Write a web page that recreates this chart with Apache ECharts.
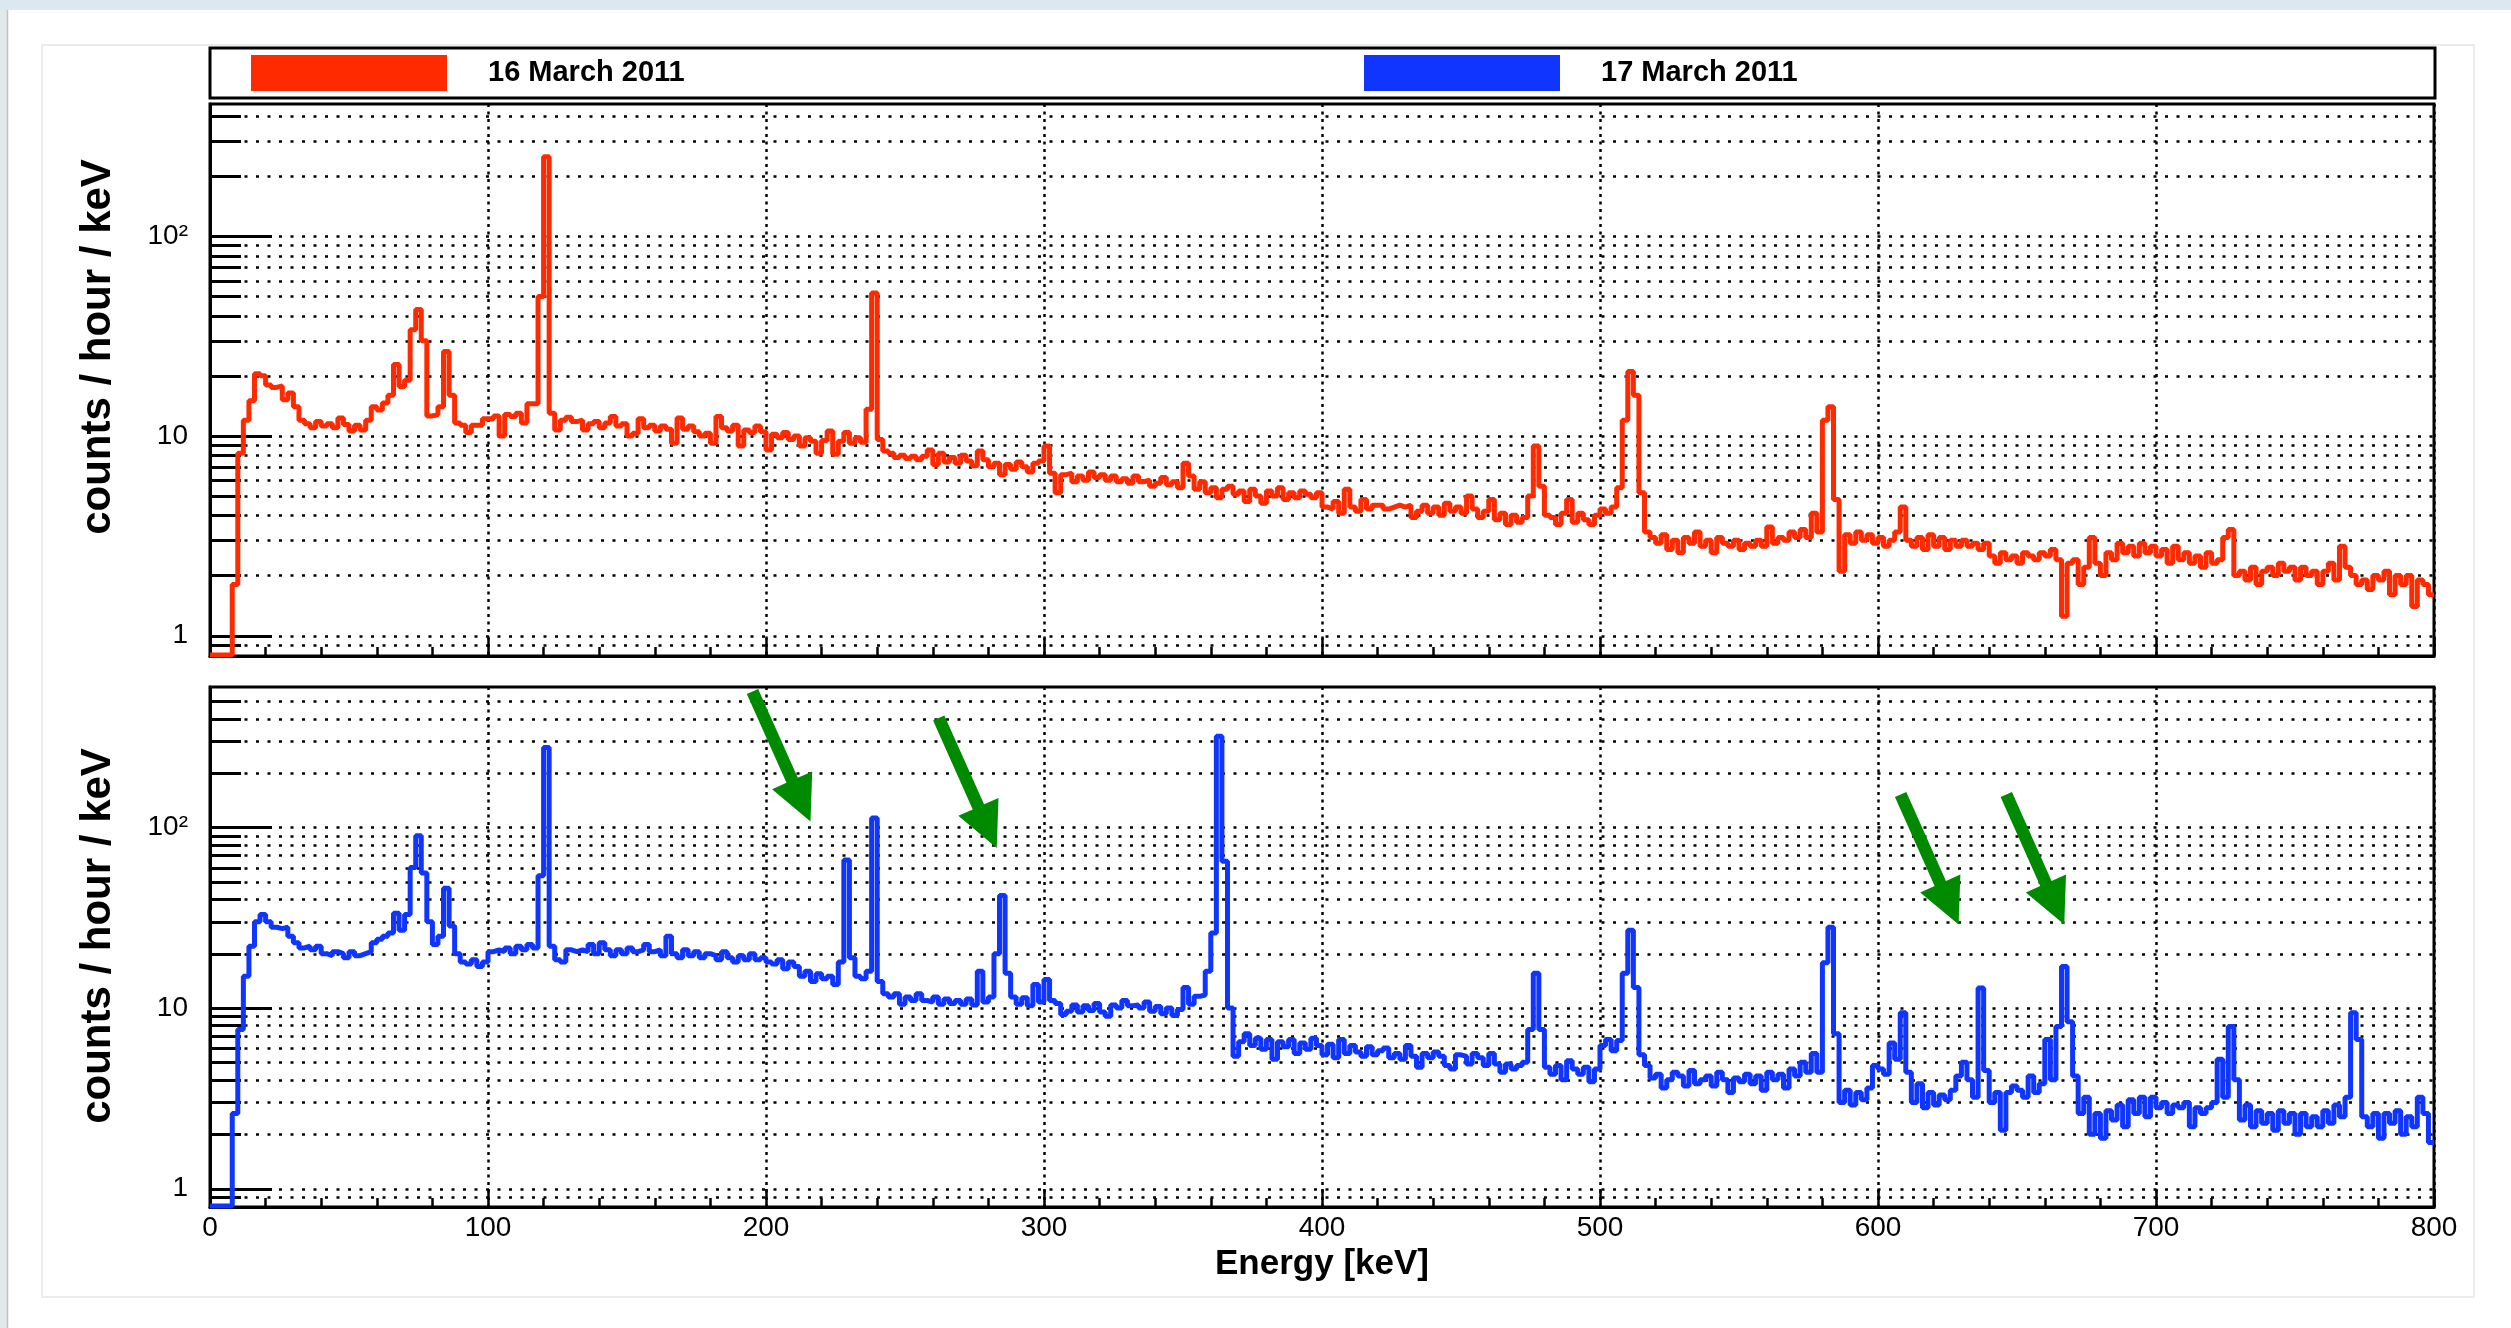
<!DOCTYPE html>
<html>
<head>
<meta charset="utf-8">
<title>Gamma spectrum 16/17 March 2011</title>
<script src="https://cdn.jsdelivr.net/npm/echarts@6/dist/echarts.min.js"></script>
<style>
html, body { margin: 0; padding: 0; background: #fff; }
#chart { width: 2511px; height: 1328px; }
</style>
</head>
<body>
<div id="chart"></div>
<script>
// histogram bins, 2 keV wide, starting at 0 keV; counts / hour / keV
var binWidth = 2;
var energyMax = 800;

var march16 = [
    0.8, 0.8, 0.8, 0.8, 1.8, 8.2, 12, 15, 20.5, 20,
    18, 17.5, 17.8, 15.2, 16.4, 14, 12, 11.5, 11, 11.8,
    11.2, 11.5, 11, 12.3, 11.4, 10.6, 11.3, 10.7, 12, 14,
    13.5, 14.6, 16, 22.8, 17.7, 19, 34, 43, 30, 12.6,
    12.8, 14, 26.5, 16, 11.6, 11.3, 10.4, 11.3, 11.3, 12.2,
    12.2, 12.6, 10, 12.8, 12.5, 13, 11.6, 14.5, 14.5, 50,
    250, 13, 10.7, 12, 12.4, 11.8, 12, 10.7, 11.5, 11.8,
    11, 11.6, 12.5, 11.2, 11.5, 10, 10.3, 12.2, 11, 11.3,
    10.6, 11.2, 10.8, 9.2, 12.3, 10.8, 11.2, 10.5, 10, 10.3,
    9.2, 12.5, 11, 10.6, 11.3, 8.9, 10.7, 10.4, 11.2, 10.5,
    8.5, 10.2, 9.8, 10.4, 9.6, 10, 8.9, 9.8, 9.4, 8.2,
    9.5, 10.6, 8.1, 9.4, 10.4, 9.2, 9.8, 9.3, 13.6, 52,
    9.6, 8.4, 8.2, 7.8, 8, 7.7, 7.9, 7.6, 7.9, 8.5,
    7.2, 8.2, 7.4, 7.8, 7.3, 8, 7.5, 7.1, 8.4, 7.6,
    7, 7.3, 6.4, 7.2, 6.8, 7.4, 7, 6.6, 7.3, 7.5,
    8.9, 6.5, 5.2, 6.4, 6.5, 5.9, 6.3, 6, 6.6, 6.2,
    6.4, 6, 6.3, 5.9, 6.1, 5.8, 6.3, 5.9, 6, 5.6,
    5.8, 6.2, 5.7, 5.9, 5.5, 7.3, 6.3, 5.4, 5.9, 5.2,
    5.5, 4.9, 5.4, 5.6, 5.1, 5.3, 4.7, 5.4, 5, 4.6,
    5.3, 5, 5.5, 4.8, 5.2, 4.9, 5.3, 5.1, 4.9, 5.2,
    4.4, 4.3, 4.7, 4.1, 5.4, 4.4, 4.2, 4.8, 4.3, 4.5,
    4.5, 4.3, 4.4, 4.5, 4.4, 4.5, 3.9, 4.2, 4.5, 4.1,
    4.4, 4, 4.6, 4.2, 4.4, 4.1, 5, 4.3, 3.9, 4.2,
    4.8, 3.8, 4.1, 3.6, 4, 3.7, 3.9, 5, 8.9, 5.6,
    4, 3.9, 3.6, 4.1, 4.8, 3.7, 4.1, 3.8, 3.6, 4,
    4.3, 4.1, 4.4, 5.5, 12, 21, 16, 5.2, 3.3, 3.1,
    2.9, 3.2, 2.7, 3, 2.6, 3.1, 2.9, 3.3, 2.8, 3,
    2.6, 3.1, 2.9, 2.8, 3, 2.7, 2.9, 2.8, 3, 2.8,
    3.5, 2.9, 3.1, 3, 3.3, 3.1, 3.4, 3.1, 4.1, 3.3,
    12, 14, 4.8, 2.1, 3.2, 2.9, 3.3, 3, 3.2, 2.9,
    3.1, 2.8, 3, 3.3, 4.4, 3, 2.8, 3.1, 2.7, 3.2,
    2.8, 3.1, 2.7, 3, 2.8, 3, 2.8, 2.9, 2.7, 2.9,
    2.5, 2.3, 2.6, 2.4, 2.5, 2.3, 2.6, 2.5, 2.4, 2.6,
    2.5, 2.7, 2.4, 1.25, 2.3, 2.4, 1.8, 2.2, 3.1, 2.3,
    2, 2.6, 2.4, 2.9, 2.6, 2.8, 2.5, 2.9, 2.6, 2.8,
    2.5, 2.7, 2.3, 2.8, 2.4, 2.6, 2.3, 2.5, 2.2, 2.6,
    2.3, 2.4, 3.1, 3.4, 2, 2.1, 1.9, 2.2, 1.8, 2.1,
    2.2, 2, 2.3, 2.1, 2.2, 1.9, 2.2, 2, 2.1, 1.8,
    2.1, 2.3, 1.9, 2.8, 2.2, 2, 1.8, 1.9, 1.7, 2,
    1.9, 2.1, 1.6, 2, 1.8, 2, 1.4, 1.9, 1.8, 1.6
];

var march17 = [
    0.8, 0.8, 0.8, 0.8, 2.6, 7.6, 15, 22, 30, 33,
    30, 28, 27.5, 28, 25, 23, 21.5, 22, 21, 22,
    20, 19.5, 20.5, 20, 19, 20.5, 19.5, 20, 20.5, 23,
    24, 25, 26, 33.5, 27, 33, 60, 90, 56, 30,
    22.5, 25, 46, 28.5, 20, 18, 17.5, 18.5, 17, 18,
    20.5, 21, 20.5, 21.5, 20, 22, 21, 22.5, 21.5, 54,
    277, 22, 18.5, 18, 21, 20.5, 21, 20.5, 22.5, 20,
    23, 21, 19.5, 21, 20, 21.5, 20.5, 21, 22.5, 20.5,
    21, 19.5, 25, 20, 19, 21, 19.5, 20.5, 19, 20,
    19.5, 18.5, 20.5, 19, 18, 19.5, 18.5, 20, 18.5, 19,
    18, 17.5, 18.5, 16.5, 18, 17, 15, 16, 14, 15.5,
    14.5, 15, 13.5, 18, 66, 19, 15, 14.5, 16, 113,
    14, 12, 11.5, 12, 10.5, 11.5, 11, 12, 11, 10.8,
    11.5, 10.5, 11.2, 10.6, 11, 10.5, 11.2, 10.4, 16, 10.8,
    11.5, 20, 42, 15.6, 11.5, 10.5, 11.4, 10.3, 13.5, 10.8,
    14.4, 11, 10.6, 9.2, 9.6, 10.4, 9.5, 10.3, 9.7, 10.6,
    9.5, 9, 10.4, 10, 11, 10.3, 10.4, 10, 10.8, 9.6,
    10.2, 9.3, 10, 9.1, 9.8, 13, 10.5, 11.6, 11.8, 16,
    26, 320, 65, 10, 5.4, 6.5, 7.2, 6.2, 6.8, 5.9,
    6.7, 5.2, 6.5, 6.1, 6.7, 5.6, 6.4, 5.9, 6.8, 6.2,
    5.5, 6.3, 5.3, 6.7, 5.6, 6.2, 5.7, 5.4, 6.1, 5.5,
    5.8, 6, 5.3, 5.6, 5.2, 6.2, 5.4, 4.7, 5.6, 5.3,
    5.7, 5.4, 4.8, 4.6, 5.5, 5.4, 4.9, 5.6, 5.3, 4.8,
    5.6, 4.9, 4.4, 4.9, 4.6, 4.8, 5, 7.6, 15.6, 7.6,
    4.7, 4.3, 4.8, 4, 5.1, 4.6, 4.3, 4.7, 3.9, 4.6,
    6.2, 6.7, 5.8, 6.6, 15.6, 27, 13, 5.5, 4.8, 4.1,
    4.3, 3.6, 4, 4.4, 4.2, 3.7, 4.5, 3.8, 4, 4.2,
    3.7, 4.4, 4, 3.4, 4.1, 3.9, 4.3, 3.8, 4.2, 3.5,
    4.4, 4, 4.3, 3.6, 4.6, 4.2, 5, 4.4, 5.6, 4.4,
    17.8, 28, 7.2, 3, 3.5, 2.9, 3.4, 3.1, 3.6, 4.8,
    4.6, 4.3, 6.4, 5.2, 9.4, 4.4, 3, 3.8, 2.8, 3.4,
    2.9, 3.3, 3.1, 3.5, 4.2, 5, 4, 3.2, 12.9, 4.5,
    3, 3.4, 2.1, 3.4, 3.7, 3.5, 3.2, 4.2, 3.4, 3.8,
    6.7, 4, 7.9, 17, 8.4, 4.2, 2.6, 3.2, 2, 2.6,
    1.9, 2.7, 2.4, 2.9, 2.2, 3.1, 2.6, 3.2, 2.5, 3.2,
    2.8, 3, 2.6, 2.9, 2.8, 3, 2.2, 2.8, 2.6, 2.8,
    3, 5.2, 3.2, 7.9, 4, 2.4, 2.9, 2.2, 2.7, 2.3,
    2.6, 2.1, 2.7, 2.3, 2.6, 2, 2.6, 2.2, 2.5, 2.2,
    2.7, 2.3, 2.9, 2.5, 3.2, 9.4, 6.7, 2.5, 2.2, 2.6,
    1.9, 2.6, 2.3, 2.7, 2, 2.5, 2.2, 3.2, 2.6, 1.8
];

// log grid lines (ROOT style: every 1..9 x 10^n)
var gridLinesTop = [0.9, 1, 2, 3, 4, 5, 6, 7, 8, 9, 10, 20, 30, 40, 50, 60, 70, 80, 90, 100, 200, 300, 400];
var gridLinesBottom = [0.9, 1, 2, 3, 4, 5, 6, 7, 8, 9, 10, 20, 30, 40, 50, 60, 70, 80, 90, 100, 200, 300, 400, 500];
var majorDecades = [1, 10, 100];
var decadeLabels = ['1', '10', '10²'];

// green arrows in the lower panel: tip position [keV, counts/hour/keV]
var arrowTips = [[216, 108], [283, 77], [629, 29], [667, 29]];

var RED = '#ff2a00';
var BLUE = '#0f35ff';
var GREEN = '#008a00';
var FONT = '"Liberation Sans", Arial, Helvetica, sans-serif';

var chart = echarts.init(document.getElementById('chart'));

function toSteps(vals) {
    var pts = vals.map(function (v, i) { return [i * binWidth, v]; });
    pts.push([energyMax, vals[vals.length - 1]]);
    return pts;
}

function decadeLabel(v) {
    var e = Math.log10(v);
    var r = Math.round(e);
    if (Math.abs(e - r) > 1e-6) return '';
    return decadeLabels[r] || '';
}

// dotted horizontal grid + left ticks, drawn at data values through the y scale
function logGrid(idx, values) {
    return {
        type: 'custom',
        xAxisIndex: idx,
        yAxisIndex: idx,
        silent: true,
        z: 1,
        data: values.map(function (v) { return [0, v]; }),
        renderItem: function (params, api) {
            var cs = params.coordSys;
            var v = api.value(1);
            var y = Math.round(api.coord([0, v])[1]) + 0.5;
            var major = majorDecades.indexOf(v) >= 0;
            return {
                type: 'group',
                children: [{
                    type: 'line',
                    shape: { x1: cs.x, y1: y, x2: cs.x + cs.width, y2: y },
                    style: { stroke: '#000', lineWidth: 2.5, lineDash: [3, 8.5] }
                }, {
                    type: 'line',
                    shape: { x1: cs.x, y1: y, x2: cs.x + (major ? 62 : 31), y2: y },
                    style: { stroke: '#000', lineWidth: 3 }
                }]
            };
        }
    };
}

function xAxisOf(idx) {
    return {
        type: 'value',
        gridIndex: idx,
        min: 0,
        max: energyMax,
        interval: 100,
        axisLine: { onZero: false, lineStyle: { color: '#000', width: 3 } },
        axisTick: { inside: true, length: 18, lineStyle: { color: '#000', width: 2.5 } },
        minorTick: { show: true, splitNumber: 5, length: 9, lineStyle: { color: '#000', width: 2.5 } },
        axisLabel: { show: idx === 1, color: '#000', fontSize: 28, margin: 7, fontFamily: FONT },
        splitLine: { show: true, lineStyle: { color: '#000', width: 2.5, type: [3, 4.5] } },
        name: idx === 1 ? 'Energy [keV]' : '',
        nameLocation: 'middle',
        nameGap: 40,
        nameTextStyle: { color: '#000', fontSize: 35, fontWeight: 'bold', fontFamily: FONT }
    };
}

// the titles sit a little above the panel centre in the original
function yAxisOf(idx, max, lift) {
    return {
        type: 'log',
        gridIndex: idx,
        min: 0.79,
        max: max,
        axisLine: { show: true, lineStyle: { color: '#000', width: 3 } },
        axisTick: { show: false },
        splitLine: { show: false },
        axisLabel: { color: '#000', fontSize: 28, margin: 22, fontFamily: FONT, formatter: decadeLabel },
        name: 'counts / hour / keV',
        nameLocation: 'middle',
        nameRotate: 90,
        nameGap: 91,
        nameTextStyle: { color: '#000', fontSize: 42, fontWeight: 'bold', fontFamily: FONT, padding: [0, 0, 0, lift] }
    };
}

function legendOf(name, left) {
    return {
        data: [name],
        left: left,
        top: 55,
        padding: 0,
        icon: 'rect',
        itemWidth: 196,
        itemHeight: 36,
        selectedMode: false,
        textStyle: { color: '#000', fontSize: 29, fontWeight: 'bold', fontFamily: FONT, padding: [0, 0, 0, 36] }
    };
}

var frameGraphics = [
    { id: 'topband', type: 'rect', shape: { x: 0, y: 0, width: 2511, height: 10 }, style: { fill: '#dbe8ef' }, silent: true },
    { id: 'leftband', type: 'rect', shape: { x: 0, y: 10, width: 7, height: 1318 }, style: { fill: '#e3e8eb' }, silent: true },
    { id: 'leftline', type: 'line', shape: { x1: 7.5, y1: 10, x2: 7.5, y2: 1328 }, style: { stroke: '#bcc3c8', lineWidth: 1.5 }, silent: true },
    { id: 'card', type: 'rect', shape: { x: 42, y: 45, width: 2432, height: 1252 }, style: { fill: 'none', stroke: '#ececec', lineWidth: 2 }, silent: true },
    { id: 'legendbox', type: 'rect', shape: { x: 210, y: 48, width: 2225, height: 50 }, style: { fill: '#fff', stroke: '#000', lineWidth: 3 }, silent: true }
];

var option = {
    animation: false,
    backgroundColor: '#fff',
    textStyle: { fontFamily: FONT },
    legend: [legendOf('16 March 2011', 251), legendOf('17 March 2011', 1364)],
    grid: [
        { left: 210, top: 104, width: 2224, height: 552, show: true, borderColor: '#000', borderWidth: 3, backgroundColor: '#fff' },
        { left: 210, top: 687, width: 2224, height: 520, show: true, borderColor: '#000', borderWidth: 3, backgroundColor: '#fff' }
    ],
    xAxis: [xAxisOf(0), xAxisOf(1)],
    yAxis: [yAxisOf(0, 460, 66), yAxisOf(1, 600, 22)],
    graphic: { elements: frameGraphics },
    series: [
        logGrid(0, gridLinesTop),
        logGrid(1, gridLinesBottom),
        {
            name: '16 March 2011',
            type: 'line',
            xAxisIndex: 0,
            yAxisIndex: 0,
            step: 'end',
            data: toSteps(march16),
            symbol: 'none',
            showSymbol: false,
            lineStyle: { color: RED, width: 5 },
            itemStyle: { color: RED },
            z: 3
        },
        {
            name: '17 March 2011',
            type: 'line',
            xAxisIndex: 1,
            yAxisIndex: 1,
            step: 'end',
            data: toSteps(march17),
            symbol: 'none',
            showSymbol: false,
            lineStyle: { color: BLUE, width: 5 },
            itemStyle: { color: BLUE },
            z: 3
        }
    ]
};

chart.setOption(option);

// arrows: fat green arrows pointing down-right at the new lines
function arrowShape(tip) {
    var dx = 58, dy = 130;
    var len = Math.sqrt(dx * dx + dy * dy);
    var ux = dx / len, uy = dy / len;
    var nx = -uy, ny = ux;
    var headLen = 45, headHalf = 22, shaftHalf = 6.2;
    var bx = tip[0] - ux * headLen, by = tip[1] - uy * headLen;
    var tx = tip[0] - ux * len, ty = tip[1] - uy * len;
    return [
        tip,
        [bx + nx * headHalf, by + ny * headHalf],
        [bx + nx * shaftHalf, by + ny * shaftHalf],
        [tx + nx * shaftHalf, ty + ny * shaftHalf],
        [tx - nx * shaftHalf, ty - ny * shaftHalf],
        [bx - nx * shaftHalf, by - ny * shaftHalf],
        [bx - nx * headHalf, by - ny * headHalf]
    ];
}

var arrows = arrowTips.map(function (t, i) {
    var p = chart.convertToPixel({ xAxisIndex: 1, yAxisIndex: 1 }, t);
    return { id: 'arrow' + i, type: 'polygon', shape: { points: arrowShape(p) }, style: { fill: GREEN }, z: 20, silent: true };
});

chart.setOption({ graphic: { elements: frameGraphics.concat(arrows) } });
</script>
</body>
</html>
